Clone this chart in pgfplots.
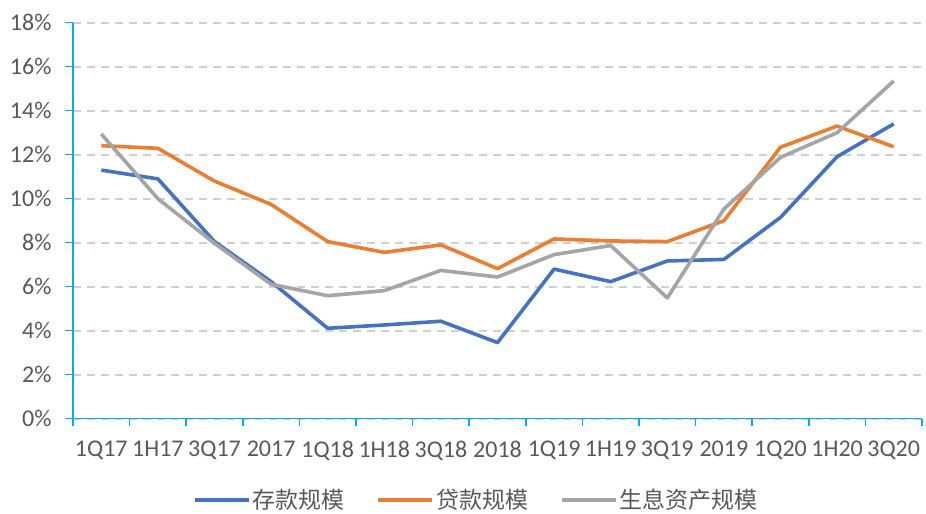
\documentclass[border=0pt]{standalone}
\usepackage{fontspec}
\setmainfont{Carlito}
\newfontfamily\cjk{Noto Sans CJK SC}
\usepackage{pgfplots}
\pgfplotsset{compat=1.18}
\definecolor{sblue}{HTML}{4472C4}
\definecolor{sorange}{HTML}{ED7D31}
\definecolor{sgray}{HTML}{A5A5A5}
\definecolor{axcyan}{HTML}{00B0F0}
\definecolor{gridc}{HTML}{D0D0D0}
\definecolor{txt}{HTML}{595959}
\begin{document}
\begin{tikzpicture}
\useasboundingbox (-73bp,-95.3bp) rectangle (853bp,418.7bp);
\begin{axis}[
  at={(0,0)}, anchor=south west,
  scale only axis, width=849bp, height=396bp,
  xmin=-0.5, xmax=14.5, ymin=0, ymax=18,
  axis lines*=left,
  axis line style={color=axcyan, line width=1.5bp},
  xtick={0,...,14},
  xticklabels={1Q17,1H17,3Q17,2017,1Q18,1H18,3Q18,2018,1Q19,1H19,3Q19,2019,1Q20,1H20,3Q20},
  minor xtick={-0.5,0.5,...,14.5},
  ytick={0,2,...,18},
  yticklabels={0\%,2\%,4\%,6\%,8\%,10\%,12\%,14\%,16\%,18\%},
  tick align=outside,
  major tick length=8bp, minor tick length=7bp,
  major x tick style={draw=none},
  minor x tick style={color=axcyan, line width=1.5bp},
  major y tick style={color=axcyan, line width=1.5bp},
  ymajorgrids,
  major grid style={color=gridc, line width=1.7bp, dash pattern=on 8bp off 6bp},
  tick label style={font=\fontsize{24bp}{28bp}\selectfont, text=txt},
  xticklabel style={yshift=-11bp},
  yticklabel style={xshift=-10bp},
  legend columns=3,
  legend style={at={(0.475,-0.205)}, anchor=center, draw=none, fill=none,
    font=\cjk\fontsize{23bp}{27bp}\selectfont, text=txt,
    /tikz/every even column/.append style={column sep=30bp}},
  legend image code/.code={\draw[#1] (0bp,0bp) -- (54bp,0bp);},
  every axis plot/.append style={line width=3.6bp, line join=round},
]
\addplot[sblue] coordinates {(0,11.30) (1,10.90) (2,8.05) (3,6.23) (4,4.11) (5,4.26) (6,4.43) (7,3.46) (8,6.80) (9,6.23) (10,7.17) (11,7.24) (12,9.15) (13,11.91) (14,13.40)};
\addlegendentry{存款规模}
\addplot[sorange] coordinates {(0,12.41) (1,12.29) (2,10.80) (3,9.74) (4,8.05) (5,7.56) (6,7.90) (7,6.82) (8,8.17) (9,8.08) (10,8.05) (11,9.00) (12,12.34) (13,13.30) (14,12.36)};
\addlegendentry{贷款规模}
\addplot[sgray] coordinates {(0,12.94) (1,10.00) (2,7.97) (3,6.11) (4,5.59) (5,5.82) (6,6.74) (7,6.44) (8,7.46) (9,7.87) (10,5.49) (11,9.53) (12,11.88) (13,13.00) (14,15.35)};
\addlegendentry{生息资产规模}
\end{axis}
\end{tikzpicture}
\end{document}
